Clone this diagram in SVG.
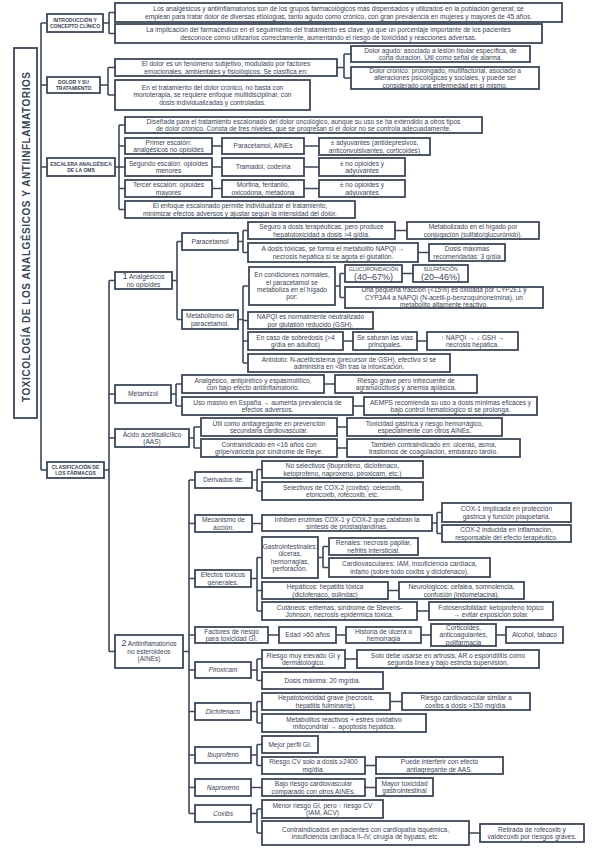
<svg xmlns="http://www.w3.org/2000/svg" width="599" height="848" viewBox="0 0 599 848">
<style>
.b{fill:#fff;stroke:#3c4757;stroke-width:1.8}
.t{font-family:"Liberation Sans",Arial,sans-serif;font-size:6.6px;fill:#3a4555;text-anchor:middle}
.s{font-size:5px;font-weight:bold}
.i{font-style:italic}
.c{fill:none;stroke:#3c4757;stroke-width:1.6}
</style>
<rect width="599" height="848" fill="#fff"/>
<g id="connectors" class="c">
<path d="M41 23V470M41 23H47M41 85H47M41 167H47M41 470H47"/>
<path d="M103 23H109M109 12.5V33.5M109 12.5H115M109 33.5H115"/>
<path d="M100 85H108M108 67.5V95M108 67.5H115M108 95H115M337 67.5H344M344 54V78M344 54H351M344 78H351"/>
<path d="M115 167H119M119 125V209.5M119 125H125M119 146H125M119 167H125M119 188.5H125M119 209.5H125M212 146H222M304 146H319M212 167H222M304 167H319M212 188.5H222M304 188.5H319"/>
<path d="M104 470H109M109 280.5V651.5M109 280.5H115M109 394H115M109 438H115M109 651.5H115"/>
<path d="M172 280.5H177M177 241.5V319.5M177 241.5H182M177 319.5H182"/>
<path d="M238 241.5H243M243 230.5V252.5M243 230.5H248M243 252.5H248M395 230.5H407M418 252.5H429"/>
<path d="M238 319.5H243M243 286V363M243 286H249M243 320.5H248M243 341H248M243 363H248M335 286H340M340 273.5V297.5M340 273.5H345M340 297.5H345M402 273.5H413M343 341H353M417 341H427"/>
<path d="M171 394H176M176 384V406M176 384H182M176 406H182M324 384H335M353 406H364"/>
<path d="M189 438H194M194 427V448M194 427H201M194 448H201M337 427H347M337 448H347"/>
<path d="M183 651.5H189M189 480V813.5M189 480H195M189 523.5H195M189 578.5H195M189 635H195M189 670H195M189 711.5H195M189 755H195M189 787.5H195M189 813.5H195"/>
<path d="M252 480H257M257 469.5V491M257 469.5H262M257 491H262"/>
<path d="M252 523.5H262M432 523H437M437 512.5V533.5M437 512.5H442M437 533.5H442"/>
<path d="M251 578.5H257M257 557.5V611M257 557.5H262M257 590.5H262M257 611H262M318 557.5H323M323 546.5V567.5M323 546.5H329M323 567.5H329M388 590.5H399M417 611H429"/>
<path d="M268 635H279M336 635H346M421 635H431M496 635H506"/>
<path d="M251 670H257M257 659V680.5M257 659H262M257 680.5H262M345 659H357"/>
<path d="M251 711.5H257M257 701.5V723M257 701.5H262M257 723H262M390 701.5H402"/>
<path d="M251 755H257M257 744.5V765.5M257 744.5H262M257 765.5H262M365 765.5H376"/>
<path d="M251 787.5H262M365 787.5H376"/>
<path d="M251 813.5H257M257 809V833M257 809H262M257 833H262M469 833H480"/>
</g>
<g id="title"><rect class="b" x="14" y="48" width="23" height="370"/><text class="t" transform="translate(29.5,237) rotate(-90)" style="font-size:10px;font-weight:bold" textLength="330" lengthAdjust="spacing">TOXICOLOGÍA DE LOS ANALGÉSICOS Y ANTIINFLAMATORIOS</text></g>

<g id="intro"><rect class="b" x="47" y="14" width="56" height="18"/><text class="t s" x="75" y="21.5"><tspan x="75">INTRODUCCIÓN Y</tspan><tspan x="75" dy="6.5">CONCEPTO CLÍNICO</tspan></text></g>
<g id="intro1"><rect class="b" x="115" y="3" width="447" height="19"/><text class="t" x="338.5" y="11.1"><tspan x="338.5">Los analgésicos y antiinflamatorios son de los grupos farmacológicos más dispensados y utilizados en la población general; se</tspan><tspan x="338.5" dy="7.4">emplean para tratar dolor de diversas etiologías, tanto agudo como crónico, con gran prevalencia en mujeres y mayores de 45 años.</tspan></text></g>
<g id="intro2"><rect class="b" x="115" y="24" width="427" height="19"/><text class="t" x="328.5" y="32.1"><tspan x="328.5">La implicación del farmacéutico en el seguimiento del tratamiento es clave, ya que un porcentaje importante de los pacientes</tspan><tspan x="328.5" dy="7.4">desconoce cómo utilizarlos correctamente, aumentando el riesgo de toxicidad y reacciones adversas.</tspan></text></g>

<g id="dolor"><rect class="b" x="47" y="77" width="53" height="16"/><text class="t s" x="73.5" y="83.5"><tspan x="73.5">DOLOR Y SU</tspan><tspan x="73.5" dy="6.5">TRATAMIENTO</tspan></text></g>
<g id="dolorA"><rect class="b" x="115" y="59" width="222" height="17"/><text class="t" x="226" y="66.1"><tspan x="226">El dolor es un fenómeno subjetivo, modulado por factores</tspan><tspan x="226" dy="7.4">emocionales, ambientales y fisiológicos. Se clasifica en:</tspan></text></g>
<g id="agudo"><rect class="b" x="351" y="46" width="179" height="16"/><text class="t" x="440.5" y="52.6"><tspan x="440.5">Dolor agudo: asociado a lesión tisular específica, de</tspan><tspan x="440.5" dy="7.4">corta duración. Útil como señal de alarma.</tspan></text></g>
<g id="cronico"><rect class="b" x="351" y="67" width="188" height="22"/><text class="t" x="445" y="72.9"><tspan x="445">Dolor crónico: prolongado, multifactorial, asociado a</tspan><tspan x="445" dy="7.4">alteraciones psicológicas y sociales, y puede ser</tspan><tspan x="445" dy="7.4">considerado una enfermedad en sí mismo.</tspan></text></g>
<g id="dolorB"><rect class="b" x="115" y="80" width="195" height="30"/><text class="t" x="212.5" y="89.9"><tspan x="212.5">En el tratamiento del dolor crónico, no basta con</tspan><tspan x="212.5" dy="7.4">monoterapia, se requiere enfoque multidisciplinar, con</tspan><tspan x="212.5" dy="7.4">dosis individualizadas y controladas.</tspan></text></g>

<g id="escalera"><rect class="b" x="47" y="158" width="68" height="18"/><text class="t s" x="81" y="165.5"><tspan x="81">ESCALERA ANALGÉSICA</tspan><tspan x="81" dy="6.5">DE LA OMS</tspan></text></g>
<g id="esc-top"><rect class="b" x="125" y="117" width="357" height="16"/><text class="t" x="303.5" y="123.6"><tspan x="303.5">Diseñada para el tratamiento escalonado del dolor oncológico, aunque su uso se ha extendido a otros tipos</tspan><tspan x="303.5" dy="7.4">de dolor crónico. Consta de tres niveles, que se progresan si el dolor no se controla adecuadamente.</tspan></text></g>
<g id="primer"><rect class="b" x="125" y="138" width="87" height="16"/><text class="t" x="168.5" y="144.6"><tspan x="168.5">Primer escalón:</tspan><tspan x="168.5" dy="7.4">analgésicos no opioides</tspan></text></g>
<g id="primer2"><rect class="b" x="222" y="138" width="82" height="16"/><text class="t" x="263" y="148.3">Paracetamol, AINEs</text></g>
<g id="primer3"><rect class="b" x="319" y="138" width="111" height="17"/><text class="t" x="374.5" y="145.1"><tspan x="374.5">± adyuvantes (antidepresivos,</tspan><tspan x="374.5" dy="7.4">anticonvulsivantes, corticoides)</tspan></text></g>
<g id="segundo"><rect class="b" x="125" y="158" width="87" height="18"/><text class="t" x="168.5" y="165.6"><tspan x="168.5">Segundo escalón: opioides</tspan><tspan x="168.5" dy="7.4">menores</tspan></text></g>
<g id="segundo2"><rect class="b" x="222" y="158" width="82" height="18"/><text class="t" x="263" y="169.3">Tramadol, codeína</text></g>
<g id="segundo3"><rect class="b" x="319" y="158" width="86" height="18"/><text class="t" x="362" y="165.6"><tspan x="362">± no opioides y</tspan><tspan x="362" dy="7.4">adyuvantes</tspan></text></g>
<g id="tercer"><rect class="b" x="125" y="180" width="87" height="17"/><text class="t" x="168.5" y="187.1"><tspan x="168.5">Tercer escalón: opioides</tspan><tspan x="168.5" dy="7.4">mayores</tspan></text></g>
<g id="tercer2"><rect class="b" x="222" y="180" width="82" height="17"/><text class="t" x="263" y="187.1"><tspan x="263">Morfina, fentanilo,</tspan><tspan x="263" dy="7.4">oxicodona, metadona</tspan></text></g>
<g id="tercer3"><rect class="b" x="319" y="180" width="86" height="17"/><text class="t" x="362" y="187.1"><tspan x="362">± no opioides y</tspan><tspan x="362" dy="7.4">adyuvantes</tspan></text></g>
<g id="enfoque"><rect class="b" x="125" y="201" width="230" height="17"/><text class="t" x="240" y="208.1"><tspan x="240">El enfoque escalonado permite individualizar el tratamiento,</tspan><tspan x="240" dy="7.4">minimizar efectos adversos y ajustar según la intensidad del dolor.</tspan></text></g>

<g id="clasificacion"><rect class="b" x="47" y="462" width="57" height="16"/><text class="t s" x="75.5" y="468.5"><tspan x="75.5">CLASIFICACIÓN DE</tspan><tspan x="75.5" dy="6.5">LOS FÁRMACOS</tspan></text></g>
<g id="analgesicos"><rect class="b" x="115" y="272" width="57" height="17"/><text class="t" x="143.5" y="279.1"><tspan x="143.5"><tspan style="font-size:9px">1</tspan> Analgésicos</tspan><tspan x="143.5" dy="7.4">no opioides</tspan></text></g>
<g id="paracetamol"><rect class="b" x="182" y="233" width="56" height="17"/><text class="t" x="210" y="243.8">Paracetamol</text></g>
<g id="p1"><rect class="b" x="248" y="222" width="147" height="17"/><text class="t" x="321.5" y="229.1"><tspan x="321.5">Seguro a dosis terapéuticas, pero produce</tspan><tspan x="321.5" dy="7.4">hepatotoxicidad a dosis &gt;4 g/día.</tspan></text></g>
<g id="p1b"><rect class="b" x="407" y="222" width="132" height="17"/><text class="t" x="473" y="229.1"><tspan x="473">Metabolizado en el hígado por</tspan><tspan x="473" dy="7.4">conjugación (sulfato/glucurónido).</tspan></text></g>
<g id="p2"><rect class="b" x="248" y="243" width="170" height="19"/><text class="t" x="333" y="251.1"><tspan x="333">A dosis tóxicas, se forma el metabolito NAPQI →</tspan><tspan x="333" dy="7.4">necrosis hepática si se agota el glutatión.</tspan></text></g>
<g id="p2b"><rect class="b" x="429" y="244" width="76" height="17"/><text class="t" x="467" y="251.1"><tspan x="467">Dosis máximas</tspan><tspan x="467" dy="7.4">recomendadas: 3 g/día</tspan></text></g>
<g id="metabolismo"><rect class="b" x="182" y="310" width="56" height="19"/><text class="t" x="210" y="318.1"><tspan x="210">Metabolismo del</tspan><tspan x="210" dy="7.4">paracetamol.</tspan></text></g>
<g id="m1"><rect class="b" x="249" y="267" width="86" height="38"/><text class="t" x="292" y="277.2"><tspan x="292">En condiciones normales,</tspan><tspan x="292" dy="7.4">el paracetamol se</tspan><tspan x="292" dy="7.4">metaboliza en el hígado</tspan><tspan x="292" dy="7.4">por:</tspan></text></g>
<g id="m1a"><rect class="b" x="345" y="265" width="57" height="17"/><text class="t" x="373.5" y="270.5"><tspan x="373.5" style="font-size:5px">GLUCURONIDACIÓN</tspan><tspan x="373.5" dy="9.5" style="font-size:9px">(40–67%)</tspan></text></g>
<g id="m1b"><rect class="b" x="413" y="265" width="55" height="17"/><text class="t" x="440.5" y="270.5"><tspan x="440.5" style="font-size:5px">SULFATACIÓN</tspan><tspan x="440.5" dy="9.5" style="font-size:9px">(20–46%)</tspan></text></g>
<g id="m1c"><rect class="b" x="345" y="287" width="198" height="21"/><text class="t" x="444" y="292.4"><tspan x="444">Una pequeña fracción (&lt;15%) es oxidada por CYP2E1 y</tspan><tspan x="444" dy="7.4">CYP3A4 a NAPQI (N-acetil-p-benzoquinoneimina), un</tspan><tspan x="444" dy="7.4">metabolito altamente reactivo.</tspan></text></g>
<g id="m2"><rect class="b" x="248" y="312" width="125" height="17"/><text class="t" x="310.5" y="319.1"><tspan x="310.5">NAPQI es normalmente neutralizado</tspan><tspan x="310.5" dy="7.4">por glutatión reducido (GSH).</tspan></text></g>
<g id="m3"><rect class="b" x="248" y="332" width="95" height="18"/><text class="t" x="295.5" y="339.6"><tspan x="295.5">En caso de sobredosis (&gt;4</tspan><tspan x="295.5" dy="7.4">g/día en adultos)</tspan></text></g>
<g id="m3b"><rect class="b" x="353" y="332" width="64" height="18"/><text class="t" x="385" y="339.6"><tspan x="385">Se saturan las vías</tspan><tspan x="385" dy="7.4">principales.</tspan></text></g>
<g id="m3c"><rect class="b" x="427" y="332" width="91" height="18"/><text class="t" x="472.5" y="339.6"><tspan x="472.5">↑ NAPQI → ↓ GSH →</tspan><tspan x="472.5" dy="7.4">necrosis hepática.</tspan></text></g>
<g id="m4"><rect class="b" x="248" y="354" width="202" height="18"/><text class="t" x="349" y="361.6"><tspan x="349">Antídoto: N-acetilcisteína (precursor de GSH), efectivo si se</tspan><tspan x="349" dy="7.4">administra en &lt;8h tras la intoxicación.</tspan></text></g>

<g id="metamizol"><rect class="b" x="115" y="385" width="56" height="18"/><text class="t" x="143" y="396.3">Metamizol</text></g>
<g id="mt1"><rect class="b" x="182" y="375" width="142" height="18"/><text class="t" x="253" y="382.6"><tspan x="253">Analgésico, antipirético y espasmolítico,</tspan><tspan x="253" dy="7.4">con bajo efecto antiinflamatorio.</tspan></text></g>
<g id="mt1b"><rect class="b" x="335" y="375" width="142" height="18"/><text class="t" x="406" y="382.6"><tspan x="406">Riesgo grave pero infrecuente de</tspan><tspan x="406" dy="7.4">agranulocitosis y anemia aplásica.</tspan></text></g>
<g id="mt2"><rect class="b" x="182" y="397" width="171" height="18"/><text class="t" x="267.5" y="404.6"><tspan x="267.5">Uso masivo en España → aumenta prevalencia de</tspan><tspan x="267.5" dy="7.4">efectos adversos.</tspan></text></g>
<g id="mt2b"><rect class="b" x="364" y="397" width="173" height="18"/><text class="t" x="450.5" y="404.6"><tspan x="450.5">AEMPS recomienda su uso a dosis mínimas eficaces y</tspan><tspan x="450.5" dy="7.4">bajo control hematológico si se prolonga.</tspan></text></g>

<g id="aas"><rect class="b" x="115" y="429" width="74" height="18"/><text class="t" x="152" y="436.6"><tspan x="152">Ácido acetilsalicílico</tspan><tspan x="152" dy="7.4">(AAS)</tspan></text></g>
<g id="a1"><rect class="b" x="201" y="418" width="136" height="18"/><text class="t" x="269" y="425.6"><tspan x="269">Útil como antiagregante en prevención</tspan><tspan x="269" dy="7.4">secundaria cardiovascular.</tspan></text></g>
<g id="a1b"><rect class="b" x="347" y="418" width="155" height="18"/><text class="t" x="424.5" y="425.6"><tspan x="424.5">Toxicidad gástrica y riesgo hemorrágico,</tspan><tspan x="424.5" dy="7.4">especialmente con otros AINEs.</tspan></text></g>
<g id="a2"><rect class="b" x="201" y="439" width="136" height="18"/><text class="t" x="269" y="446.6"><tspan x="269">Contraindicado en &lt;16 años con</tspan><tspan x="269" dy="7.4">gripe/varicela por síndrome de Reye.</tspan></text></g>
<g id="a2b"><rect class="b" x="347" y="439" width="173" height="18"/><text class="t" x="433.5" y="446.6"><tspan x="433.5">También contraindicado en: úlceras, asma,</tspan><tspan x="433.5" dy="7.4">trastornos de coagulación, embarazo tardío.</tspan></text></g>

<g id="aines"><rect class="b" x="115" y="635" width="68" height="33"/><text class="t" x="149" y="646.4"><tspan x="149"><tspan style="font-size:9px">2</tspan> Antiinflamatorios</tspan><tspan x="149" dy="7.4">no esteroideos</tspan><tspan x="149" dy="7.4">(AINEs)</tspan></text></g>
<g id="derivados"><rect class="b" x="195" y="472" width="57" height="16"/><text class="t" x="223.5" y="482.3">Derivados de:</text></g>
<g id="d1"><rect class="b" x="262" y="461" width="161" height="17"/><text class="t" x="342.5" y="468.1"><tspan x="342.5">No selectivos (ibuprofeno, diclofenaco,</tspan><tspan x="342.5" dy="7.4">ketoprofeno, naproxeno, piroxicam, etc.)</tspan></text></g>
<g id="d2"><rect class="b" x="262" y="482" width="161" height="18"/><text class="t" x="342.5" y="489.6"><tspan x="342.5">Selectivos de COX-2 (coxibs): celecoxib,</tspan><tspan x="342.5" dy="7.4">etoricoxib, rofecoxib, etc.</tspan></text></g>
<g id="mecanismo"><rect class="b" x="195" y="515" width="57" height="17"/><text class="t" x="223.5" y="522.1"><tspan x="223.5">Mecanismo de</tspan><tspan x="223.5" dy="7.4">acción.</tspan></text></g>
<g id="mc"><rect class="b" x="262" y="515" width="170" height="16"/><text class="t" x="347" y="521.6"><tspan x="347">Inhiben enzimas COX-1 y COX-2 que catalizan la</tspan><tspan x="347" dy="7.4">síntesis de prostaglandinas.</tspan></text></g>
<g id="mc1"><rect class="b" x="442" y="503" width="129" height="19"/><text class="t" x="506.5" y="511.1"><tspan x="506.5">COX-1 implicada en protección</tspan><tspan x="506.5" dy="7.4">gástrica y función plaquetaria.</tspan></text></g>
<g id="mc2"><rect class="b" x="442" y="525" width="129" height="17"/><text class="t" x="506.5" y="532.1"><tspan x="506.5">COX-2 inducida en inflamación,</tspan><tspan x="506.5" dy="7.4">responsable del efecto terapéutico.</tspan></text></g>
<g id="efectos"><rect class="b" x="195" y="570" width="56" height="17"/><text class="t" x="223" y="577.1"><tspan x="223">Efectos tóxicos</tspan><tspan x="223" dy="7.4">generales.</tspan></text></g>
<g id="gi"><rect class="b" x="262" y="537" width="56" height="41"/><text class="t" x="290" y="548.7"><tspan x="290">Gastrointestinales:</tspan><tspan x="290" dy="7.4">úlceras,</tspan><tspan x="290" dy="7.4">hemorragias,</tspan><tspan x="290" dy="7.4">perforación.</tspan></text></g>
<g id="renales"><rect class="b" x="329" y="538" width="89" height="17"/><text class="t" x="373.5" y="545.1"><tspan x="373.5">Renales: necrosis papilar,</tspan><tspan x="373.5" dy="7.4">nefritis intersticial.</tspan></text></g>
<g id="cv"><rect class="b" x="329" y="558" width="161" height="19"/><text class="t" x="409.5" y="566.1"><tspan x="409.5">Cardiovasculares: IAM, insuficiencia cardíaca,</tspan><tspan x="409.5" dy="7.4">infarto (sobre todo coxibs y diclofenaco).</tspan></text></g>
<g id="hepaticos"><rect class="b" x="262" y="582" width="126" height="17"/><text class="t" x="325" y="589.1"><tspan x="325">Hepáticos: hepatitis tóxica</tspan><tspan x="325" dy="7.4">(diclofenaco, sulindac)</tspan></text></g>
<g id="neuro"><rect class="b" x="399" y="582" width="125" height="17"/><text class="t" x="461.5" y="589.1"><tspan x="461.5">Neurológicos: cefalea, somnolencia,</tspan><tspan x="461.5" dy="7.4">confusión (indometacina).</tspan></text></g>
<g id="cutaneos"><rect class="b" x="262" y="602" width="155" height="18"/><text class="t" x="339.5" y="609.6"><tspan x="339.5">Cutáneos: eritemas, síndrome de Stevens-</tspan><tspan x="339.5" dy="7.4">Johnson, necrosis epidérmica tóxica.</tspan></text></g>
<g id="foto"><rect class="b" x="429" y="602" width="124" height="18"/><text class="t" x="491" y="609.6"><tspan x="491">Fotosensibilidad: ketoprofeno tópico</tspan><tspan x="491" dy="7.4">→ evitar exposición solar.</tspan></text></g>
<g id="factores"><rect class="b" x="195" y="627" width="73" height="16"/><text class="t" x="231.5" y="633.6"><tspan x="231.5">Factores de riesgo</tspan><tspan x="231.5" dy="7.4">para toxicidad GI.</tspan></text></g>
<g id="edad"><rect class="b" x="279" y="627" width="57" height="16"/><text class="t" x="307.5" y="637.3">Edad &gt;60 años</text></g>
<g id="historia"><rect class="b" x="346" y="627" width="75" height="16"/><text class="t" x="383.5" y="633.6"><tspan x="383.5">Historia de úlcera o</tspan><tspan x="383.5" dy="7.4">hemorragia</tspan></text></g>
<g id="corticoides"><rect class="b" x="431" y="624" width="65" height="22"/><text class="t" x="463.5" y="629.9"><tspan x="463.5">Corticoides,</tspan><tspan x="463.5" dy="7.4">anticoagulantes,</tspan><tspan x="463.5" dy="7.4">polifarmacia</tspan></text></g>
<g id="alcohol"><rect class="b" x="506" y="627" width="57" height="16"/><text class="t" x="534.5" y="637.3">Alcohol, tabaco</text></g>
<g id="piroxicam"><rect class="b" x="195" y="662" width="56" height="16"/><text class="t i" x="223" y="672.3">Piroxicam</text></g>
<g id="pi1"><rect class="b" x="262" y="650" width="83" height="18"/><text class="t" x="303.5" y="657.6"><tspan x="303.5">Riesgo muy elevado GI y</tspan><tspan x="303.5" dy="7.4">dermatológico.</tspan></text></g>
<g id="pi1b"><rect class="b" x="357" y="650" width="182" height="18"/><text class="t" x="448" y="657.6"><tspan x="448">Solo debe usarse en artrosis, AR o espondilitis como</tspan><tspan x="448" dy="7.4">segunda línea y bajo estricta supervisión.</tspan></text></g>
<g id="pi2"><rect class="b" x="262" y="672" width="121" height="17"/><text class="t" x="322.5" y="682.8">Dosis máxima: 20 mg/día.</text></g>
<g id="diclofenaco"><rect class="b" x="195" y="703" width="56" height="17"/><text class="t i" x="223" y="713.8">Diclofenaco</text></g>
<g id="di1"><rect class="b" x="262" y="693" width="128" height="17"/><text class="t" x="326" y="700.1"><tspan x="326">Hepatotoxicidad grave (necrosis,</tspan><tspan x="326" dy="7.4">hepatitis fulminante).</tspan></text></g>
<g id="di1b"><rect class="b" x="402" y="693" width="128" height="17"/><text class="t" x="466" y="700.1"><tspan x="466">Riesgo cardiovascular similar a</tspan><tspan x="466" dy="7.4">coxibs a dosis &gt;150 mg/día.</tspan></text></g>
<g id="di2"><rect class="b" x="262" y="714" width="164" height="18"/><text class="t" x="344" y="721.6"><tspan x="344">Metabolitos reactivos + estrés oxidativo</tspan><tspan x="344" dy="7.4">mitocondrial → apoptosis hepática.</tspan></text></g>
<g id="ibuprofeno"><rect class="b" x="195" y="747" width="56" height="16"/><text class="t i" x="223" y="757.3">Ibuprofeno</text></g>
<g id="ib1"><rect class="b" x="262" y="736" width="56" height="17"/><text class="t" x="290" y="746.8">Mejor perfil GI.</text></g>
<g id="ib2"><rect class="b" x="262" y="757" width="103" height="17"/><text class="t" x="313.5" y="764.1"><tspan x="313.5">Riesgo CV solo a dosis ≥2400</tspan><tspan x="313.5" dy="7.4">mg/día.</tspan></text></g>
<g id="ib2b"><rect class="b" x="376" y="757" width="127" height="17"/><text class="t" x="439.5" y="764.1"><tspan x="439.5">Puede interferir con efecto</tspan><tspan x="439.5" dy="7.4">antiagregante de AAS.</tspan></text></g>
<g id="naproxeno"><rect class="b" x="195" y="779" width="56" height="17"/><text class="t i" x="223" y="789.8">Naproxeno</text></g>
<g id="na1"><rect class="b" x="262" y="779" width="103" height="17"/><text class="t" x="313.5" y="786.1"><tspan x="313.5">Bajo riesgo cardiovascular</tspan><tspan x="313.5" dy="7.4">comparado con otros AINEs.</tspan></text></g>
<g id="na1b"><rect class="b" x="376" y="778" width="57" height="18"/><text class="t" x="404.5" y="785.6"><tspan x="404.5">Mayor toxicidad</tspan><tspan x="404.5" dy="7.4">gastrointestinal</tspan></text></g>
<g id="coxibs"><rect class="b" x="195" y="805" width="56" height="17"/><text class="t i" x="223" y="815.8">Coxibs</text></g>
<g id="co1"><rect class="b" x="262" y="800" width="121" height="18"/><text class="t" x="322.5" y="807.6"><tspan x="322.5">Menor riesgo GI, pero ↑ riesgo CV</tspan><tspan x="322.5" dy="7.4">(IAM, ACV)</tspan></text></g>
<g id="co2"><rect class="b" x="262" y="821" width="207" height="24"/><text class="t" x="365.5" y="831.6"><tspan x="365.5">Contraindicados en pacientes con cardiopatía isquémica,</tspan><tspan x="365.5" dy="7.4">insuficiencia cardíaca II–IV, cirugía de bypass, etc.</tspan></text></g>
<g id="co2b"><rect class="b" x="480" y="824" width="104" height="18"/><text class="t" x="532" y="831.6"><tspan x="532">Retirada de rofecoxib y</tspan><tspan x="532" dy="7.4">valdecoxib por riesgos graves.</tspan></text></g>
</svg>
